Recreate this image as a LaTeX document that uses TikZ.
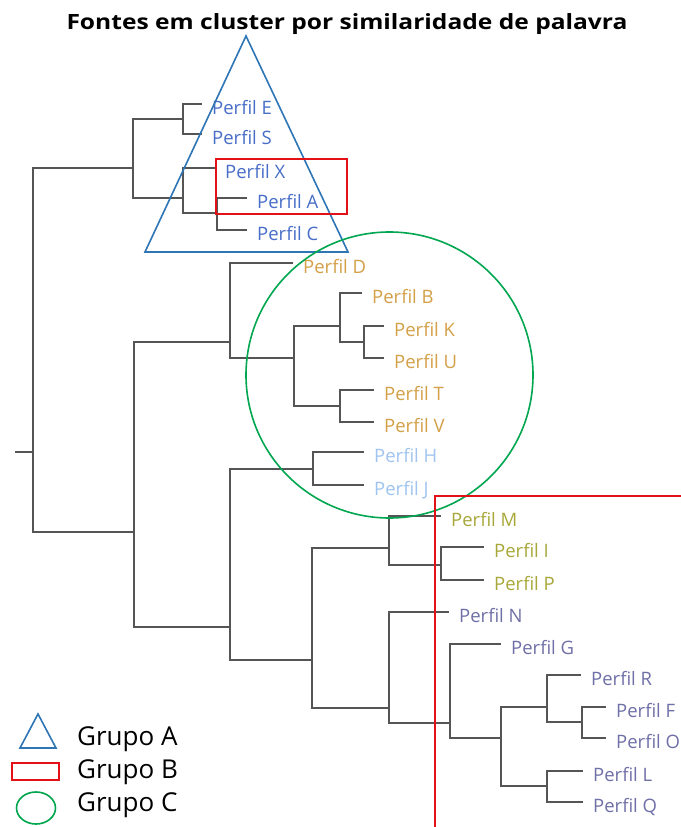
\documentclass[tikz,border=0pt]{standalone}
\usepackage{fontspec}
\setmainfont{Open Sans}
\definecolor{treegray}{RGB}{85,85,85}
\definecolor{cblue}{RGB}{72,110,200}
\definecolor{corange}{RGB}{212,160,72}
\definecolor{clight}{RGB}{160,196,240}
\definecolor{colive}{RGB}{168,168,58}
\definecolor{cpurple}{RGB}{112,112,168}
\definecolor{gAcol}{RGB}{46,117,182}
\definecolor{gBcol}{RGB}{228,16,24}
\definecolor{gCcol}{RGB}{0,166,80}
\tikzset{
  br/.style={draw=treegray, line width=2pt},
  leaf/.style={anchor=base west, inner sep=0pt, font=\fontsize{18.5}{22}\selectfont},
  legendtxt/.style={anchor=base west, inner sep=0pt, text=black, font=\fontsize{26}{30}\selectfont},
  grpA/.style={draw=gAcol, line width=1.6pt, line join=miter},
  grpB/.style={draw=gBcol, line width=1.6pt},
  grpC/.style={draw=gCcol, line width=1.6pt},
}
\newcommand{\leafat}[5]{%
  \coordinate (#1e) at (#2,#3);
  \node[leaf, text=#4] (#1) at ({#2+10},{#3+10}) {#5};
}
\begin{document}
\begin{tikzpicture}[x=1pt,y=-1pt]
\useasboundingbox (0,0) rectangle (680,827);
\fill[white] (0,0) rectangle (680,827);

% title
\node[anchor=base, inner sep=0pt, font=\bfseries\fontsize{21}{25}\selectfont] (title) at (347,29) {\scalebox{1.17}[1]{Fontes em cluster por similaridade de palavra}};

% junctions
\coordinate (rs) at (15,452);
\coordinate (r) at (33,452);
\coordinate (t1) at (133,168);
\coordinate (ES) at (183,119);
\coordinate (XAC) at (183,198);
\coordinate (AC) at (217,213);
\coordinate (b1) at (134,532);
\coordinate (DC) at (230,342);
\coordinate (BT) at (294,358);
\coordinate (BKU) at (340,326);
\coordinate (KU) at (364,342);
\coordinate (TV) at (340,406);
\coordinate (b2) at (230,627);
\coordinate (HJ) at (313,469);
\coordinate (b3) at (312,660);
\coordinate (MIP) at (389,548);
\coordinate (IP) at (441,565);
\coordinate (NG) at (389,708);
\coordinate (GQ) at (450,723);
\coordinate (RQ) at (501,738);
\coordinate (RFO) at (547,707);
\coordinate (FO) at (582,722);
\coordinate (LQ) at (547,786);

% leaves
\leafat{E}{202}{104}{cblue}{Perfil E}
\leafat{S}{202}{134}{cblue}{Perfil S}
\leafat{X}{215}{168}{cblue}{Perfil X}
\leafat{A}{247}{198}{cblue}{Perfil A}
\leafat{C}{247}{230}{cblue}{Perfil C}
\leafat{D}{293}{263}{corange}{Perfil D}
\leafat{B}{362}{293}{corange}{Perfil B}
\leafat{K}{384}{326}{corange}{Perfil K}
\leafat{U}{384}{358}{corange}{Perfil U}
\leafat{T}{374}{390}{corange}{Perfil T}
\leafat{V}{374}{422}{corange}{Perfil V}
\leafat{H}{364}{452}{clight}{Perfil H}
\leafat{J}{364}{485}{clight}{Perfil J}
\leafat{M}{441}{516}{colive}{Perfil M}
\leafat{I}{484}{547}{colive}{Perfil I}
\leafat{P}{484}{580}{colive}{Perfil P}
\leafat{N}{449}{612}{cpurple}{Perfil N}
\leafat{G}{501}{644}{cpurple}{Perfil G}
\leafat{R}{581}{675}{cpurple}{Perfil R}
\leafat{F}{606}{707}{cpurple}{Perfil F}
\leafat{O}{606}{738}{cpurple}{Perfil O}
\leafat{L}{583}{771}{cpurple}{Perfil L}
\leafat{Q}{583}{802}{cpurple}{Perfil Q}

% tree
\draw[br] (rs) -- (r);
\draw[br] (r) |- (t1);
\draw[br] (r) |- (b1);
\draw[br] (t1) |- (ES);
\draw[br] (t1) |- (XAC);
\draw[br] (ES) |- (Ee);
\draw[br] (ES) |- (Se);
\draw[br] (XAC) |- (Xe);
\draw[br] (XAC) |- (AC);
\draw[br] (AC) |- (Ae);
\draw[br] (AC) |- (Ce);
\draw[br] (b1) |- (DC);
\draw[br] (b1) |- (b2);
\draw[br] (DC) |- (De);
\draw[br] (DC) |- (BT);
\draw[br] (BT) |- (BKU);
\draw[br] (BT) |- (TV);
\draw[br] (BKU) |- (Be);
\draw[br] (BKU) |- (KU);
\draw[br] (KU) |- (Ke);
\draw[br] (KU) |- (Ue);
\draw[br] (TV) |- (Te);
\draw[br] (TV) |- (Ve);
\draw[br] (b2) |- (HJ);
\draw[br] (b2) |- (b3);
\draw[br] (HJ) |- (He);
\draw[br] (HJ) |- (Je);
\draw[br] (b3) |- (MIP);
\draw[br] (b3) |- (NG);
\draw[br] (MIP) |- (Me);
\draw[br] (MIP) |- (IP);
\draw[br] (IP) |- (Ie);
\draw[br] (IP) |- (Pe);
\draw[br] (NG) |- (Ne);
\draw[br] (NG) |- (GQ);
\draw[br] (GQ) |- (Ge);
\draw[br] (GQ) |- (RQ);
\draw[br] (RQ) |- (RFO);
\draw[br] (RQ) |- (LQ);
\draw[br] (RFO) |- (Re);
\draw[br] (RFO) |- (FO);
\draw[br] (FO) |- (Fe);
\draw[br] (FO) |- (Oe);
\draw[br] (LQ) |- (Le);
\draw[br] (LQ) |- (Qe);

% group shapes
\draw[grpA] (246,36) -- (348,252) -- (145,252) -- cycle;
\draw[grpB] (216,159) rectangle (347,214);
\draw[grpC] (389.5,375) ellipse [x radius=143.5pt, y radius=143pt];
\draw[grpB] (435,840) |- (700,496);

% legend
\draw[grpA] (20,748) -- (56,748) -- (38,714) -- cycle;
\draw[grpB] (12,763) rectangle (59,780);
\draw[grpC] (36,808) ellipse [x radius=19.5pt, y radius=16pt];
\node[legendtxt] (lA) at (77,745.5) {Grupo A};
\node[legendtxt] (lB) at (77,778) {Grupo B};
\node[legendtxt] (lC) at (77,811.5) {Grupo C};
\end{tikzpicture}
\end{document}
